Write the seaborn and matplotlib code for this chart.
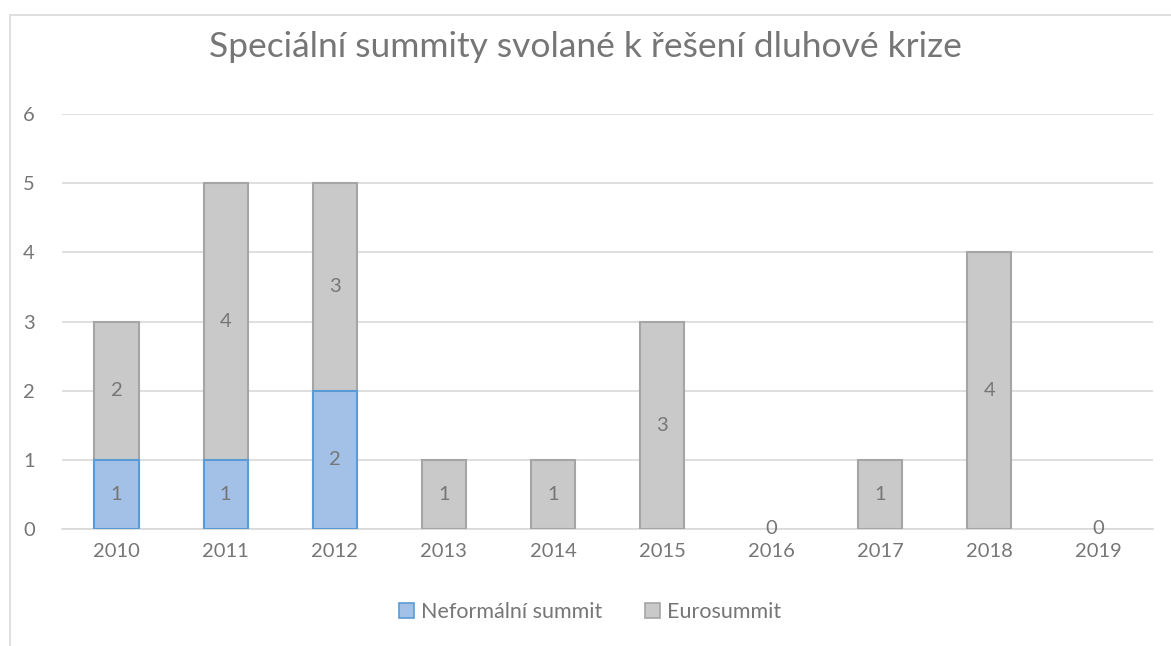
import numpy as np
import pandas as pd
import seaborn as sns
import matplotlib.pyplot as plt
from matplotlib.patches import Rectangle, Patch

years = ["2010", "2011", "2012", "2013", "2014", "2015", "2016", "2017", "2018", "2019"]
neformalni = [1, 1, 2, np.nan, np.nan, np.nan, np.nan, np.nan, np.nan, np.nan]
eurosummit = [2, 4, 3, 1, 1, 3, 0, 1, 4, 0]

title = "Speciální summity svolané k řešení dluhové krize"
series_names = ["Neformální summit", "Eurosummit"]

blue_fill, blue_edge = "#A3C1E7", "#5B9BD5"
grey_fill, grey_edge = "#C9C9C9", "#A5A5A5"
text_col = "#767676"
grid_col = "#D9D9D9"

df = pd.DataFrame({"year": years, "neformalni": neformalni, "eurosummit": eurosummit})
df["base"] = df["neformalni"].fillna(0)
df["total"] = df["base"] + df["eurosummit"]
df["total_nz"] = df["total"].where(df["total"] > 0)

sns.set_style("white")
plt.rcParams["font.family"] = ["Lato", "DejaVu Sans"]

fig = plt.figure(figsize=(11.71, 6.46), dpi=100)
ax = fig.add_axes([62 / 1171, 1 - 529 / 646, (1153 - 62) / 1171, (529 - 114) / 646])

# outer chart frame
fig.patches.append(Rectangle((10 / 1171, -0.1), 1.2, 1 - 15 / 646 + 0.1,
                             transform=fig.transFigure, fill=False,
                             edgecolor="#D9D9D9", linewidth=1.2, zorder=0))

# grey stack drawn at full height, blue drawn over its lower part
sns.barplot(data=df, x="year", y="total_nz", order=years, color=grey_fill,
            edgecolor=grey_edge, linewidth=1.5, width=0.405, saturation=1,
            ax=ax, zorder=3)
sns.barplot(data=df, x="year", y="neformalni", order=years, color=blue_fill,
            edgecolor=blue_edge, linewidth=1.5, width=0.405, saturation=1,
            ax=ax, zorder=4)

for i, row in df.iterrows():
    if not np.isnan(row["neformalni"]):
        ax.text(i, row["neformalni"] / 2, f"{int(row['neformalni'])}",
                ha="center", va="center", fontsize=14.5, color=text_col, zorder=6)
    ax.text(i, row["base"] + row["eurosummit"] / 2, f"{int(row['eurosummit'])}",
            ha="center", va="center", fontsize=14.5, color=text_col, zorder=6)

ax.set_ylim(0, 6)
ax.set_xlim(-0.5, len(years) - 0.5)
ax.set_yticks(range(0, 7))
ax.yaxis.grid(True, color=grid_col, linewidth=1.2)
ax.set_axisbelow(True)
for s in ["top", "right", "left"]:
    ax.spines[s].set_visible(False)
ax.spines["bottom"].set_color(grid_col)
ax.spines["bottom"].set_linewidth(1.2)
ax.tick_params(axis="both", length=0, labelsize=14.5, labelcolor=text_col)
ax.tick_params(axis="y", pad=28)
ax.tick_params(axis="x", pad=10)
for lab in ax.get_yticklabels():
    lab.set_horizontalalignment("left")
ax.set_xlabel("")
ax.set_ylabel("")

fig.text(0.5, 1 - 47 / 646, title, ha="center", va="center",
         fontsize=25.5, color=text_col)

handles = [Patch(facecolor=blue_fill, edgecolor=blue_edge, linewidth=1.2),
           Patch(facecolor=grey_fill, edgecolor=grey_edge, linewidth=1.2)]
fig.legend(handles, series_names, loc="center", bbox_to_anchor=(590 / 1171, 1 - 612 / 646),
           ncol=2, frameon=False, fontsize=15.5, labelcolor=text_col,
           handlelength=0.7, handleheight=0.7, handletextpad=0.3, columnspacing=2.0)

fig.savefig("out.png", dpi=100)
